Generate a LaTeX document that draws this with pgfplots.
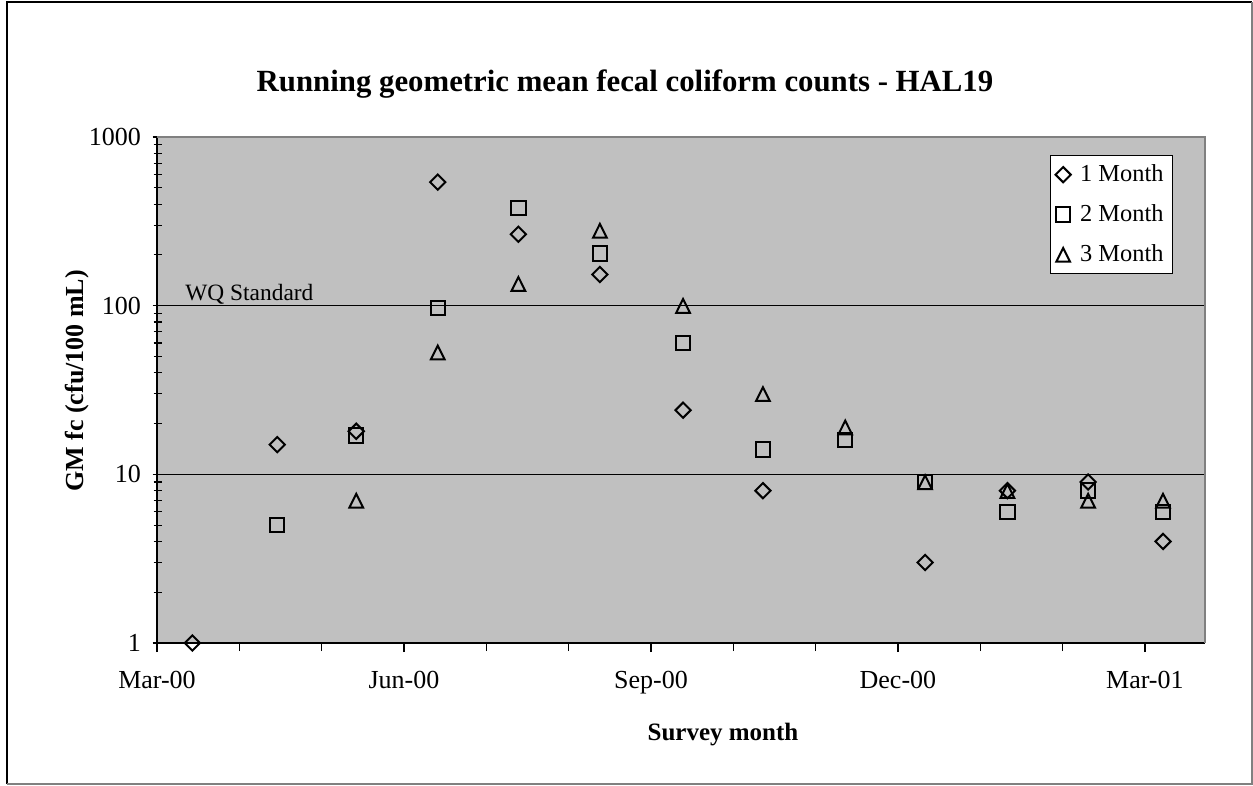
\documentclass[border=0pt]{standalone}
\usepackage{fontspec}
\setmainfont{Liberation Serif}
\usepackage{pgfplots}
\pgfplotsset{compat=1.18}
\definecolor{plotgray}{HTML}{C0C0C0}
\definecolor{rimgray}{HTML}{808080}

\begin{document}
\begin{tikzpicture}
\useasboundingbox (0,0) rectangle (626.5pt,-393pt);
% chart frame
\draw[black, line width=1.3pt] (3.5pt,-392pt) -- (3.5pt,-1pt) -- (626pt,-1pt);
\draw[rimgray, line width=0.8pt] (3.5pt,-392pt) -- (626pt,-392pt) -- (626pt,-1pt);

\begin{axis}[
  at={(78.5pt,-321.5pt)}, anchor=south west,
  scale only axis, width=524pt, height=253pt,
  ymode=log, xmin=0, xmax=12.73, ymin=1, ymax=1000,
  clip=false,
  axis lines=left,
  axis line style={-, line width=0.65pt},
  axis background/.style={fill=plotgray},
  xtick={0,3,6,9,12},
  xticklabels={Mar-00,Jun-00,Sep-00,Dec-00,Mar-01},
  minor xtick={1,2,4,5,7,8,10,11},
  ytick={1,10,100,1000},
  yticklabels={1,10,100,1000},
  minor ytick={2,3,...,9,20,30,...,90,200,300,...,900},
  tick align=outside,
  major tick length=4.5pt, minor tick length=4pt,
  tick style={black, line width=0.6pt},
  ytick style={xshift=2.25pt},
  ymajorgrids,
  major grid style={black, line width=0.5pt},
  tick label style={font=\fontsize{13}{15}\selectfont},
  xticklabel style={yshift=-6pt},
  legend cell align=left,
  legend style={at={(rel axis cs:0.9695,0.964)}, anchor=north east,
    draw=black, fill=white, line width=0.5pt,
    font=\fontsize{12.2}{14}\selectfont,
    row sep=6pt, inner sep=2.5pt},
  legend image code/.code={\path[draw=none, fill=none] (0pt,-1pt) rectangle (9.5pt,1pt);
    \draw[#1] plot coordinates {(3pt,0pt)};},
]

% 1 Month
\addplot[only marks, mark=square, mark size=2.7pt,
  mark options={rotate=45, line width=1pt, draw=black, fill=none}]
coordinates {
  (0.43,1) (1.46,15) (2.42,18) (3.41,540) (4.39,265) (5.38,153)
  (6.39,24) (7.36,8) (9.33,3) (10.33,8) (11.31,9) (12.22,4)
};
\addlegendentry{1 Month}

% 2 Month
\addplot[only marks, mark=square, mark size=3.6pt,
  mark options={line width=1pt, draw=black, fill=none}]
coordinates {
  (1.46,5) (2.42,17) (3.41,97) (4.39,380) (5.38,204) (6.39,60)
  (7.36,14) (8.36,16) (9.33,9) (10.33,6) (11.31,8) (12.22,6)
};
\addlegendentry{2 Month}

% 3 Month
\addplot[only marks, mark=triangle, mark size=3.95pt,
  mark options={yscale=1.16, yshift=-1.1pt, line width=1pt, draw=black, fill=none}]
coordinates {
  (2.42,7) (3.41,53) (4.39,135) (5.38,279) (6.39,100) (7.36,30)
  (8.36,19) (9.33,9) (10.33,8) (11.31,7) (12.22,7)
};
\addlegendentry{3 Month}

\node[anchor=base west, inner sep=0pt, font=\fontsize{11.7}{14}\selectfont]
  at (axis cs:0.34,100) [yshift=2.5pt] {WQ Standard};

% gray rim on top and right of the plot area
\draw[rimgray, line width=1pt] (rel axis cs:0,1) -- (rel axis cs:1,1) -- (rel axis cs:1,0);
\end{axis}

\node[font=\bfseries\fontsize{15.4}{18}\selectfont] at (312.5pt,-42pt)
  {Running geometric mean fecal coliform counts - HAL19};
\node[font=\bfseries\fontsize{12.5}{15}\selectfont] at (361.5pt,-367.5pt)
  {Survey month};
\node[rotate=90, font=\bfseries\fontsize{13}{15}\selectfont] at (38.5pt,-190.5pt)
  {GM fc (cfu/100 mL)};
\end{tikzpicture}
\end{document}
